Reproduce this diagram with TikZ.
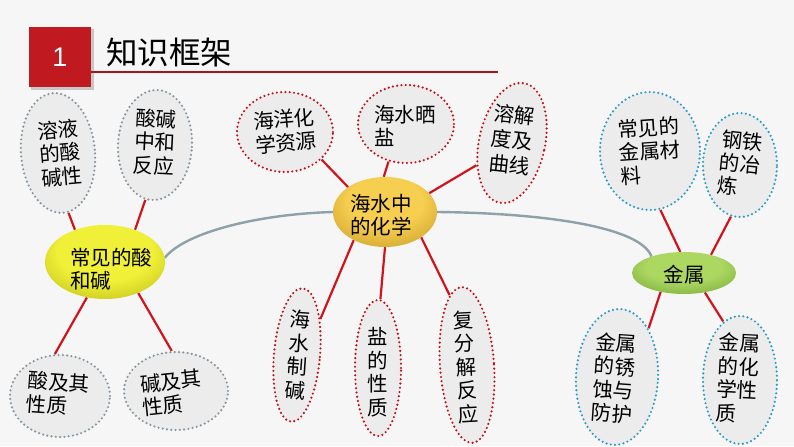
\documentclass[tikz,border=0pt]{standalone}
\usepackage{fontspec}
\setmainfont{Liberation Sans}
\newfontfamily\cjk{Noto Sans CJK SC}
\usetikzlibrary{shapes.geometric}
\definecolor{bgc}{HTML}{F6F6F6}
\definecolor{bubfill}{HTML}{ECECEC}
\definecolor{dotgray}{HTML}{8696A0}
\definecolor{dotred}{HTML}{C2101C}
\definecolor{dotblue}{HTML}{2A9CC8}
\definecolor{linkred}{HTML}{D0141C}
\definecolor{arcgray}{HTML}{8EA0A8}
\definecolor{titlered}{HTML}{C01A20}
\definecolor{titleline}{HTML}{A81418}
\definecolor{yA}{HTML}{F0F038}
\definecolor{yB}{HTML}{969600}
\definecolor{gA}{HTML}{F6CE50}
\definecolor{gB}{HTML}{AA7E0C}
\definecolor{nA}{HTML}{ACD862}
\definecolor{nB}{HTML}{55881A}
\pgfdeclareradialshading{shyellow}{\pgfpoint{0bp}{12bp}}{color(0bp)=(yA); color(20bp)=(yA); color(50bp)=(yB)}
\pgfdeclareradialshading{shgold}{\pgfpoint{0bp}{12bp}}{color(0bp)=(gA); color(18bp)=(gA); color(50bp)=(gB)}
\pgfdeclareradialshading{shgreen}{\pgfpoint{0bp}{12bp}}{color(0bp)=(nA); color(18bp)=(nA); color(50bp)=(nB)}
\pgfdeclarelayer{back}
\pgfdeclarelayer{links}
\pgfsetlayers{back,links,main}
\begin{document}
\begin{tikzpicture}[x=1pt,y=-1pt,
  txt/.style={font=\cjk\fontsize{20.5}{23.5}\selectfont, inner sep=0pt, align=center},
  vtxt/.style={font=\cjk\fontsize{20.5}{23.5}\selectfont, inner sep=0pt, align=center},
  bub/.style={ellipse, fill=bubfill, line width=2.4pt, dash pattern=on 0pt off 4.3pt, line cap=round, inner sep=0pt},
  graybub/.style={bub, draw=dotgray},
  redbub/.style={bub, draw=dotred},
  bluebub/.style={bub, draw=dotblue},
  hub/.style={ellipse, inner sep=0pt, draw=none},
  link/.style={draw=linkred, line width=2.2pt},
  arcline/.style={draw=arcgray, line width=2.4pt}
]
\begin{pgfonlayer}{back}
\fill[bgc] (0,0) rectangle (794,446);
\useasboundingbox (0,0) rectangle (794,446);
\fill[black!22] (31,29) rectangle (94,90);
\end{pgfonlayer}

% title
\node[fill=titlered, minimum width=62pt, minimum height=60pt, inner sep=0pt,
      text=white, font=\fontsize{27}{30}\selectfont] (numbox) at (60,57) {1};
\node[font=\cjk\fontsize{31.5}{35}\selectfont, inner sep=0pt, anchor=west] (title) at (106,53) {知识框架};
\draw[titleline, line width=2pt] (91,72) -- (498,72);

% left group
\node[hub, shading=shyellow, minimum width=120pt, minimum height=74pt] (cj) at (105,262) {};
\node[txt, align=left] (cjT) at (111,269) {常见的酸\\和碱};
\node[graybub, minimum width=74pt, minimum height=120pt, rotate=5] (rongye) at (58,153) {};
\node[txt, rotate=5] (rongyeT) at (60,153) {溶液\\的酸\\碱性};
\node[graybub, minimum width=74pt, minimum height=110pt, rotate=-3] (suanjian) at (155,145) {};
\node[txt, rotate=-3] (suanjianT) at (155,142) {酸碱\\中和\\反应};
\node[graybub, minimum width=100pt, minimum height=82pt] (suanji) at (60,396) {};
\node[txt, align=left, rotate=-4] (suanjiT) at (58,394) {酸及其\\性质};
\node[graybub, minimum width=104pt, minimum height=78pt] (jianji) at (176,391) {};
\node[txt, align=left, rotate=6] (jianjiT) at (172,393) {碱及其\\性质};

% middle group
\node[hub, shading=shgold, minimum width=104pt, minimum height=70pt] (hs) at (385,212) {};
\node[txt] (hsT) at (381,215) {海水中\\的化学};
\node[redbub, minimum width=96pt, minimum height=80pt] (haiyang) at (285,132) {};
\node[txt, rotate=5] (haiyangT) at (285,131) {海洋化\\学资源};
\node[redbub, minimum width=96pt, minimum height=78pt] (shaiyan) at (406,124) {};
\node[txt, align=left] (shaiyanT) at (405,126) {海水晒\\盐};
\node[redbub, minimum width=66pt, minimum height=122pt, rotate=-12] (rongjie) at (512,143) {};
\node[txt, rotate=-6, font=\cjk\fontsize{20.5}{25}\selectfont] (rongjieT) at (512,140) {溶解\\度及\\曲线};
\node[redbub, minimum width=46pt, minimum height=134pt, rotate=-5] (zhijian) at (297,355) {};
\node[vtxt, rotate=-4] (zhijianT) at (298,355) {海\\水\\制\\碱};
\node[redbub, minimum width=46pt, minimum height=136pt] (yande) at (378,368) {};
\node[vtxt] (yandeT) at (378,372) {盐\\的\\性\\质};
\node[redbub, minimum width=54pt, minimum height=156pt, rotate=4] (fufen) at (467,365) {};
\node[vtxt, rotate=3] (fufenT) at (466,367) {复\\分\\解\\反\\应};

% right group
\node[hub, shading=shgreen, minimum width=104pt, minimum height=42pt] (js) at (684,273) {};
\node[txt] (jsT) at (684,275) {金属};
\node[bluebub, minimum width=100pt, minimum height=118pt] (jscl) at (650,151) {};
\node[txt, align=left, rotate=4] (jsclT) at (650,151) {常见的\\金属材\\料};
\node[bluebub, minimum width=74pt, minimum height=104pt] (gangtie) at (740,165) {};
\node[txt, align=left, rotate=-6] (gangtieT) at (740,164) {钢铁\\的冶\\炼};
\node[bluebub, minimum width=82pt, minimum height=136pt, rotate=-3] (xiushi) at (617,377) {};
\node[txt, rotate=-4] (xiushiT) at (614,378) {金属\\的锈\\蚀与\\防护};
\node[bluebub, minimum width=74pt, minimum height=128pt] (huaxue) at (740,380) {};
\node[txt, align=left, rotate=-3] (huaxueT) at (738,378) {金属\\的化\\学性\\质};

\begin{pgfonlayer}{links}
\draw[arcline] (cj.4) .. controls (185,232) and (260,214) .. (hs.180);
\draw[arcline] (hs.0) .. controls (540,213) and (640,226) .. (js.153);
\draw[link] (rongye.-85) -- (cj.133);
\draw[link] (suanjian.-97) -- (cj.47);
\draw[link] (suanji.97) -- (cj.-117);
\draw[link] (jianji.96) -- (cj.-43);
\draw[link] (haiyang.-37) -- (hs.146);
\draw[link] (shaiyan.-115) -- (hs.92);
\draw[link] (rongjie.224) -- (hs.23);
\draw[link] (zhijian.62) -- (hs.-138);
\draw[link] (yande.88) -- (hs.-90);
\draw[link] (fufen.100) -- (hs.-35);
\draw[link] (jscl.-80) -- (js.100);
\draw[link] (gangtie.-100) -- (js.34);
\draw[link] (xiushi.60) -- (js.-141);
\draw[link] (huaxue.106) -- (js.-43);
\end{pgfonlayer}
\end{tikzpicture}
\end{document}
